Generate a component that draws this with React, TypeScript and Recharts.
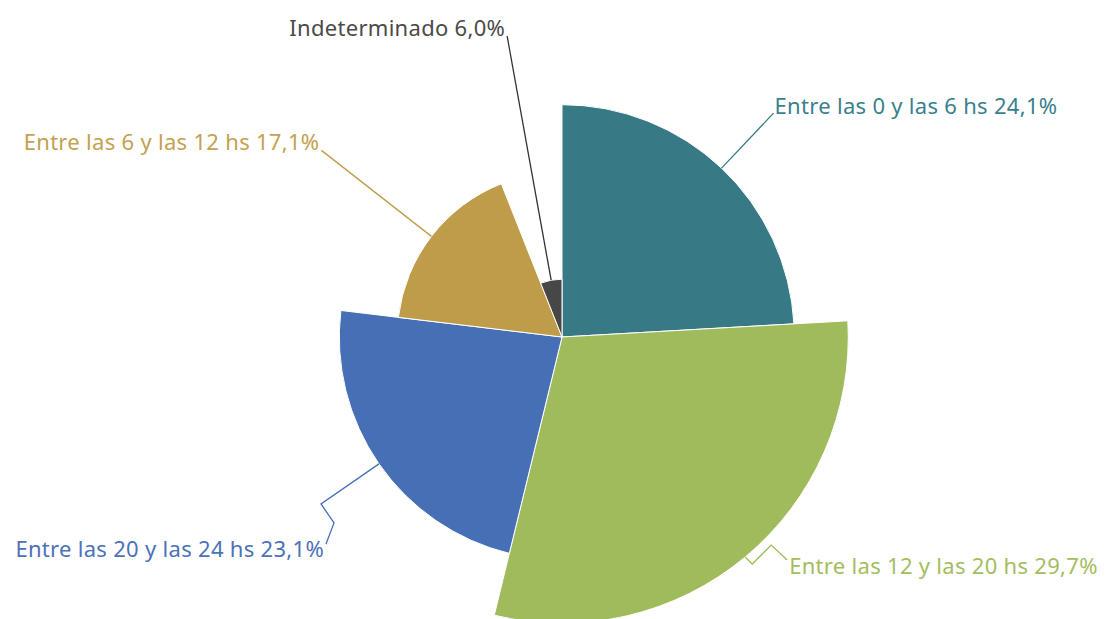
import React from 'react';
import { PieChart, Pie, Cell } from 'recharts';

const categories = [
  'Entre las 0 y las 6 hs',
  'Entre las 12 y las 20 hs',
  'Entre las 20 y las 24 hs',
  'Entre las 6 y las 12 hs',
  'Indeterminado',
];
const values = [24.1, 29.7, 23.1, 17.1, 6.0];
const colors = ['#377985', '#A0BB5C', '#466FB5', '#BF9C4A', '#474747'];
const labelColors = ['#3A7F8E', '#A3BD60', '#4B72B8', '#C4A14F', '#4A4A4A'];

// label-line vertex offsets (relative to the slice edge point) and text offsets
const lineOffsets: number[][][] = [
  [[52, -55]],
  [[7, 7], [26, -12], [42, 3]],
  [[-58, 40], [-45, 59], [-53, 80]],
  [[-110, -86]],
  [[-44, -244]],
];
const textOffsets = [
  [1, 1, 'start'],
  [2, 14, 'start'],
  [-2, 13, 'end'],
  [-2, 0, 'end'],
  [-2, 0, 'end'],
] as const;

const data = categories.map((name, i) => ({ name, value: values[i] }));

const W = 1105;
const H = 619;
const CX = 562;
const CY = 337;
const PX_PER_UNIT = 9.64;
const RAD = Math.PI / 180;

const fmt = (v: number) => `${v.toFixed(1).replace('.', ',')}%`;

const makeLabel = (target: number) => (props: any) => {
  const { cx, cy, midAngle, outerRadius, index } = props;
  if (index !== target) return <g />;
  const sx = cx + outerRadius * Math.cos(-midAngle * RAD);
  const sy = cy + outerRadius * Math.sin(-midAngle * RAD);
  const pts = [[sx, sy], ...lineOffsets[index].map(([dx, dy]) => [sx + dx, sy + dy])];
  const [ex, ey] = pts[pts.length - 1];
  const [tx, ty, anchor] = textOffsets[index];
  return (
    <g>
      <polyline
        points={pts.map((p) => p.join(',')).join(' ')}
        fill="none"
        stroke={index === 4 ? '#333' : colors[index]}
        strokeWidth={1.3}
      />
      <text
        x={ex + tx}
        y={ey + ty}
        textAnchor={anchor}
        fill={labelColors[index]}
        fontFamily="'Noto Sans', sans-serif"
        fontSize={22}
        letterSpacing={0.3}
      >
        {`${data[index].name} ${fmt(data[index].value)}`}
      </text>
    </g>
  );
};

export default function App() {
  return (
    <div style={{ position: 'absolute', left: 0, top: 0, width: W, height: H, background: '#fff' }}>
      <PieChart width={W} height={H} margin={{ top: 0, right: 0, bottom: 0, left: 0 }}>
        {data.map((d, i) => (
          <Pie
            key={d.name}
            data={data}
            dataKey="value"
            nameKey="name"
            cx={CX}
            cy={CY}
            innerRadius={0}
            outerRadius={d.value * PX_PER_UNIT}
            startAngle={90}
            endAngle={-270}
            isAnimationActive={false}
            label={makeLabel(i)}
            labelLine={false}
          >
            {data.map((e, j) => (
              <Cell
                key={e.name}
                fill={j === i ? colors[j] : 'none'}
                stroke={j === i ? '#ffffff' : 'none'}
                strokeWidth={1}
              />
            ))}
          </Pie>
        ))}
      </PieChart>
    </div>
  );
}
